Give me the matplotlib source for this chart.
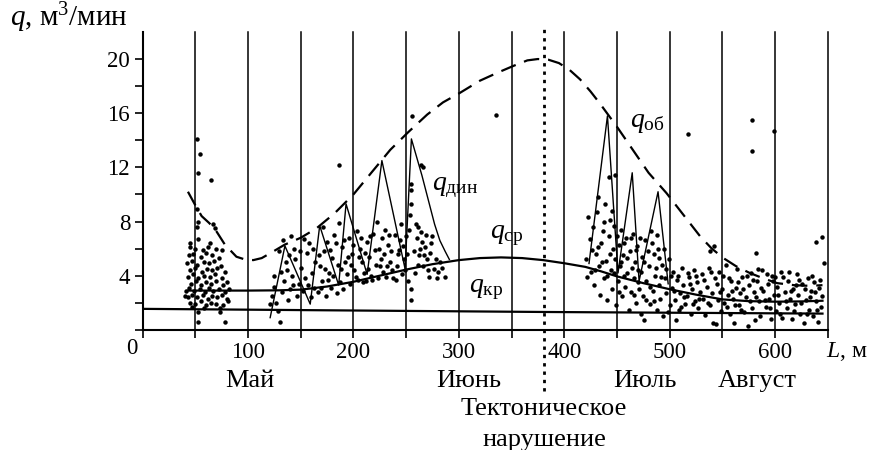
import numpy as np
import matplotlib
matplotlib.use('Agg')
import matplotlib.pyplot as plt

plt.rcParams['font.family'] = ['Liberation Serif', 'DejaVu Serif']
plt.rcParams['mathtext.fontset'] = 'custom'
plt.rcParams['mathtext.rm'] = 'Liberation Serif'
plt.rcParams['mathtext.it'] = 'Liberation Serif:italic'

# критический дебит
q_kr_x = [0, 380, 645]
q_kr_y = [1.55, 1.32, 1.2]

# средний дебит
q_sr_x = [43, 100, 130, 150, 175, 200, 225, 250, 275, 300, 320, 340, 360, 380, 400, 420,
          435, 450, 475, 500, 525, 550, 575, 600, 625, 645]
q_sr_y = [2.9, 2.9, 2.92, 2.97, 3.2, 3.55, 4.0, 4.45, 4.85, 5.15, 5.3, 5.35, 5.3, 5.15, 4.92, 4.65,
          4.32, 3.95, 3.45, 3.0, 2.6, 2.25, 2.12, 2.08, 2.1, 2.15]

# огибающая
q_ob_x = [43, 50, 56, 63, 69, 78, 89, 97, 105, 113, 122, 135, 150, 165, 182, 200, 218, 235,
          252, 270, 285, 301, 320, 337, 352, 365, 375, 385, 395, 405, 415, 425, 434, 450,
          465, 480, 497, 513, 529, 540, 551, 563, 576, 589, 602, 618, 633, 645]
q_ob_y = [10.2, 9.2, 8.4, 7.9, 7.4, 6.3, 5.4, 5.2, 5.15, 5.3, 5.7, 6.3, 6.8, 7.5, 8.6, 10.0, 11.7, 13.3,
          14.6, 15.9, 16.8, 17.5, 18.4, 19.0, 19.5, 19.9, 20.0, 19.95, 19.7, 19.2, 18.5, 17.6, 16.7, 15.0,
          13.3, 11.6, 10.1, 8.5, 6.9, 6.0, 5.3, 4.7, 4.2, 3.8, 3.45, 3.3, 3.25, 3.3]

# динамический дебит (два участка)
q_din1_x = [121, 135, 159, 168, 186, 193, 213, 227, 249, 255, 265, 271, 277, 282, 287, 291]
q_din1_y = [0.9, 6.2, 1.9, 7.7, 3.3, 9.3, 4.1, 12.5, 4.5, 14.1, 11.4, 9.6, 7.8, 6.6, 5.8, 5.2]
q_din2_x = [423.5, 441, 451, 464.5, 471, 489, 498.6]
q_din2_y = [4.9, 15.8, 4.2, 11.6, 3.6, 10.2, 3.4]

# замеры
may_dots = [
    (52, 14.1), (54, 13.0), (53, 11.6), (65, 11.1), (52, 8.9), (53, 8.0), (52, 7.6), (67, 7.8),
    (69, 7.5), (53, 6.7), (45, 6.4), (45, 6.1), (64, 6.4),
    (50, 6.0), (57, 5.9), (62, 6.1), (70, 6.0), (75, 5.9),
    (44, 5.5), (48, 5.6), (55, 5.4), (60, 5.7), (66, 5.5), (72, 5.3),
    (42, 4.9), (47, 5.1), (52, 4.8), (58, 5.0), (63, 4.9), (68, 5.1), (74, 4.7),
    (45, 4.4), (50, 4.6), (56, 4.3), (61, 4.5), (66, 4.4), (71, 4.6), (78, 4.3),
    (43, 3.9), (48, 4.1), (53, 3.8), (58, 4.0), (64, 3.9), (69, 4.1), (75, 3.8),
    (46, 3.4), (51, 3.6), (55, 3.3), (60, 3.5), (65, 3.4), (70, 3.6), (76, 3.3), (80, 3.5),
    (41, 2.9), (44, 3.1), (49, 2.9), (54, 3.0), (59, 2.8), (63, 3.1), (67, 2.9), (72, 3.0),
    (78, 2.8), (82, 3.0),
    (40, 2.5), (43, 2.4), (47, 2.6), (52, 2.4), (57, 2.6), (62, 2.3), (66, 2.5), (71, 2.4),
    (75, 2.6), (80, 2.3),
    (45, 2.0), (50, 1.9), (55, 2.1), (60, 1.8), (65, 2.0), (70, 1.9), (76, 1.8), (81, 2.1),
    (47, 1.7), (58, 1.6), (73, 1.6), (53, 1.3), (73, 1.3), (53, 0.55), (78, 0.6),
]

june_dots = [
    (186, 12.2), (264, 12.2), (256, 15.8), (255, 10.8), (255, 10.3), (255, 9.3), (254, 8.5),
    (266, 12.0),
    (121, 1.9), (123, 2.5), (125, 3.2), (127, 2.0), (130, 0.6), (128, 1.4), (132, 2.8),
    (134, 3.6), (131, 4.3), (136, 5.0), (138, 2.2), (140, 3.0), (142, 4.0), (139, 5.5),
    (144, 6.0), (146, 2.5), (148, 3.4), (150, 4.6), (145, 5.2), (152, 2.9), (154, 3.8),
    (156, 5.7), (158, 6.4), (153, 6.7), (160, 2.4), (161, 4.2), (163, 3.1), (164, 5.0),
    (133, 6.6), (129, 5.8), (141, 6.9),
    (166, 2.8), (168, 4.7), (170, 3.6), (172, 5.8), (174, 2.5), (175, 6.5), (177, 4.2),
    (179, 3.1), (180, 5.3), (182, 7.0), (184, 2.7), (185, 4.8), (187, 3.5), (189, 6.1),
    (190, 3.0), (192, 5.0), (194, 4.1), (196, 6.8), (197, 3.4), (199, 5.6), (201, 4.4),
    (203, 7.3), (204, 3.7), (206, 6.0), (208, 5.0), (210, 4.2), (171, 7.6), (186, 7.9),
    (212, 3.6), (213, 6.5), (215, 5.4), (217, 4.0), (219, 7.1), (221, 4.8), (223, 3.8),
    (224, 6.0), (226, 5.2), (228, 4.3), (230, 7.4), (231, 3.9), (233, 6.3), (235, 5.0),
    (237, 4.4), (239, 7.0), (240, 3.7), (242, 5.6), (244, 6.6), (246, 4.1), (248, 5.2),
    (250, 6.9), (252, 3.6), (258, 4.2), (260, 6.8), (262, 5.5), (264, 7.2), (266, 4.7),
    (268, 6.1), (270, 5.2), (272, 3.9), (274, 6.4), (276, 4.5), (279, 3.8), (282, 5.0),
    (255, 3.0), (255, 2.2), (257, 5.8), (259, 7.8), (222, 8.0), (245, 7.8),
    (125, 4.0), (137, 4.4), (143, 3.3), (149, 5.8), (157, 3.3), (162, 6.0), (167, 5.5),
    (169, 3.1), (173, 4.5), (176, 3.7), (178, 5.9), (181, 4.0), (183, 6.4), (188, 4.5),
    (191, 6.6), (195, 5.4), (198, 4.8), (200, 6.3), (202, 3.9), (205, 5.4), (207, 6.8),
    (209, 3.5), (211, 5.7), (214, 4.5), (216, 6.9), (218, 3.7), (220, 5.9), (225, 4.7),
    (227, 6.8), (229, 5.6), (232, 4.7), (234, 7.0), (236, 5.8), (238, 3.8), (241, 4.7),
    (243, 5.9), (247, 6.2), (249, 4.4), (251, 5.6), (253, 7.4), (261, 4.8), (263, 6.0),
    (267, 5.5), (269, 7.0), (271, 4.4), (273, 5.7), (275, 6.9), (278, 5.2), (280, 4.3),
    (284, 4.6), (287, 3.9), (261, 7.6), (265, 6.5),
]

summer_dots = [
    (335, 15.9), (517, 14.5), (578, 15.5), (578, 13.2), (599, 14.7), (448, 11.4), (442, 11.3),
    (432, 9.8), (423, 8.3), (582, 5.7), (639, 6.5), (645, 6.85), (646, 4.9), (542, 6.2),
    (538, 5.8),
    (421, 5.2), (424, 6.7), (425, 4.3), (427, 7.6), (428, 3.3), (430, 5.6), (431, 8.7),
    (433, 4.7), (434, 2.6), (435, 6.4), (437, 7.3), (438, 3.8), (439, 9.3), (440, 5.1),
    (441, 2.2), (442, 6.9), (443, 8.1), (444, 4.4), (445, 3.0), (446, 6.0), (447, 7.7),
    (448, 5.2), (449, 1.8), (451, 3.6), (452, 6.3), (453, 4.7), (454, 7.4), (455, 2.5),
    (456, 5.5), (458, 3.2), (459, 6.8), (460, 4.2), (461, 1.5), (462, 5.8), (463, 2.8),
    (465, 7.1), (466, 3.8), (467, 5.0), (468, 2.0), (469, 6.2), (470, 4.4), (471, 3.0),
    (473, 1.2), (474, 5.4), (475, 2.5), (476, 0.74), (477, 6.6), (478, 3.6), (480, 4.7),
    (481, 1.9), (482, 7.3), (484, 2.9), (485, 5.6), (486, 4.0), (488, 1.5), (489, 6.0),
    (490, 3.3), (491, 2.3), (493, 4.8), (494, 1.0), (496, 3.8), (497, 2.7), (499, 5.2),
    (500, 1.8),
    (502, 3.1), (503, 4.3), (505, 2.2), (506, 0.74), (507, 3.7), (509, 1.5), (510, 2.7),
    (512, 4.6), (513, 3.3), (515, 1.9), (516, 2.5), (518, 3.9), (520, 1.2), (521, 3.0),
    (523, 4.4), (524, 2.1), (526, 3.5), (527, 1.6), (529, 2.8), (531, 4.1), (532, 2.3),
    (534, 1.1), (535, 3.2), (537, 4.6), (538, 1.8), (540, 2.7), (541, 0.5), (543, 3.8),
    (544, 0.4), (546, 2.2), (547, 4.3), (549, 1.4), (550, 3.0), (552, 2.0), (553, 4.8),
    (555, 2.6), (557, 1.2), (558, 3.6), (560, 2.3), (561, 0.5), (563, 3.1), (564, 4.5),
    (566, 1.8), (567, 2.7), (569, 3.9), (571, 1.3), (572, 2.4), (574, 0.3), (575, 3.3),
    (577, 4.2), (578, 1.6), (580, 2.8), (581, 0.7), (583, 3.6), (585, 2.1), (586, 1.0),
    (588, 4.4), (589, 2.9), (591, 1.7), (593, 3.4), (594, 2.3), (596, 0.8), (597, 4.0),
    (599, 2.6), (601, 1.4), (602, 3.2), (604, 2.0), (606, 4.3), (607, 0.9), (609, 2.8),
    (611, 1.6), (612, 3.6), (614, 2.3), (616, 0.8), (617, 3.0), (619, 1.9), (621, 4.1),
    (622, 2.6), (624, 1.2), (626, 3.4), (627, 0.5), (629, 2.2), (631, 3.8), (632, 1.5),
    (634, 2.9), (636, 1.0), (637, 3.5), (639, 2.1), (641, 0.6), (642, 3.1), (644, 1.7),
    (645, 2.5),
    (422, 3.9), (426, 5.9), (429, 4.4), (432, 6.1), (436, 5.0), (438, 8.0), (441, 4.0),
    (443, 5.6), (445, 8.8), (447, 4.2), (450, 6.9), (452, 2.8), (454, 5.0), (457, 4.0),
    (457, 6.4), (460, 5.3), (463, 6.8), (464, 4.6), (466, 2.6), (468, 5.9), (470, 3.5),
    (472, 6.8), (473, 4.3), (476, 5.0), (478, 2.2), (479, 5.8), (481, 3.2), (483, 6.4),
    (485, 2.1), (487, 4.6), (488, 7.0), (490, 5.3), (492, 3.9), (495, 6.0), (497, 4.5),
    (498, 1.3), (501, 4.0), (504, 2.9), (508, 4.0), (511, 1.7), (514, 2.4), (517, 4.2),
    (519, 3.4), (522, 1.9), (525, 4.0), (528, 2.3), (533, 3.7), (536, 2.0), (539, 4.3),
    (545, 3.4), (548, 2.8), (551, 4.0), (554, 1.7), (556, 3.8), (559, 2.9), (562, 1.8),
    (565, 3.5), (568, 1.5), (570, 3.0), (573, 4.0), (576, 2.1), (579, 3.7), (582, 2.4),
    (584, 4.5), (587, 3.1), (590, 2.2), (592, 4.1), (595, 1.6), (598, 3.6), (600, 3.9),
    (603, 2.6), (605, 1.2), (608, 3.9), (610, 2.1), (613, 4.3), (615, 2.9), (618, 1.4),
    (620, 3.3), (623, 3.7), (625, 2.0), (628, 3.0), (630, 1.2), (633, 2.4), (635, 4.0),
    (638, 2.8), (640, 1.5), (643, 3.7),
]

months = ['Май', 'Июнь', 'Июль', 'Август']
month_x = [102, 309, 477, 583]
fault_x = 381

fig = plt.figure(figsize=(8.75, 4.5), dpi=100)
ax = fig.add_axes([0.163, 0.267, 0.783, 0.662])
ax.set_xlim(0, 650)
ax.set_ylim(0, 22)

for xv in range(50, 651, 50):
    ax.axvline(xv, color='k', lw=1.1, clip_on=False)

dots = np.array(may_dots + june_dots + summer_dots)
ax.plot(dots[:, 0], dots[:, 1], 'o', color='k', ms=3.2, mew=0)

ax.plot(q_kr_x, q_kr_y, color='k', lw=1.6)
ax.plot(q_sr_x, q_sr_y, color='k', lw=1.6)
ax.plot(q_ob_x, q_ob_y, color='k', lw=1.6, dashes=(7, 4))
ax.plot(q_din1_x, q_din1_y, color='k', lw=1.0)
ax.plot(q_din2_x, q_din2_y, color='k', lw=1.0)

ax.plot([fault_x, fault_x], [-4.5, 22.2], color='k', lw=2, dashes=(1.2, 1.8), clip_on=False)

for side in ['top', 'right']:
    ax.spines[side].set_visible(False)
for side in ['left', 'bottom']:
    ax.spines[side].set_linewidth(1.5)

xt = list(range(0, 651, 50))
ax.set_xticks(xt)
ax.set_xticklabels([str(v) if v % 100 == 0 and 0 < v <= 600 else '' for v in xt])
yt = list(range(0, 21, 2))
ax.set_yticks(yt)
ax.set_yticklabels([str(v) if v % 4 == 0 and v > 0 else '' for v in yt])
ax.tick_params(axis='both', direction='out', length=6, width=1.2, labelsize=16.5, pad=3)

ax.text(-10, -1.35, '0', fontsize=16.5, ha='center', va='center', clip_on=False)
ax.text(-0.194, 1.047, '$q$, м$^3$/мин', transform=ax.transAxes, fontsize=21,
        ha='left', va='center')
ax.text(648, -1.6, '$L$, м', fontsize=17, ha='left', va='center', clip_on=False)

for name, mx in zip(months, month_x):
    ax.text(mx, -3.75, name, fontsize=19, ha='center', va='center', clip_on=False)
ax.text(fault_x, -7.0, 'Тектоническое\nнарушение', fontsize=19, ha='center', va='center',
        linespacing=1.52, clip_on=False)

ax.text(479, 15.3, r'$q_{\mathrm{об}}$', fontsize=20, ha='center', va='center')
ax.text(296, 10.5, r'$q_{\mathrm{дин}}$', fontsize=20, ha='center', va='center')
ax.text(345, 7.0, r'$q_{\mathrm{ср}}$', fontsize=20, ha='center', va='center')
ax.text(326, 2.95, r'$q_{\mathrm{кр}}$', fontsize=20, ha='center', va='center')

fig.savefig('out.png', dpi=100)
